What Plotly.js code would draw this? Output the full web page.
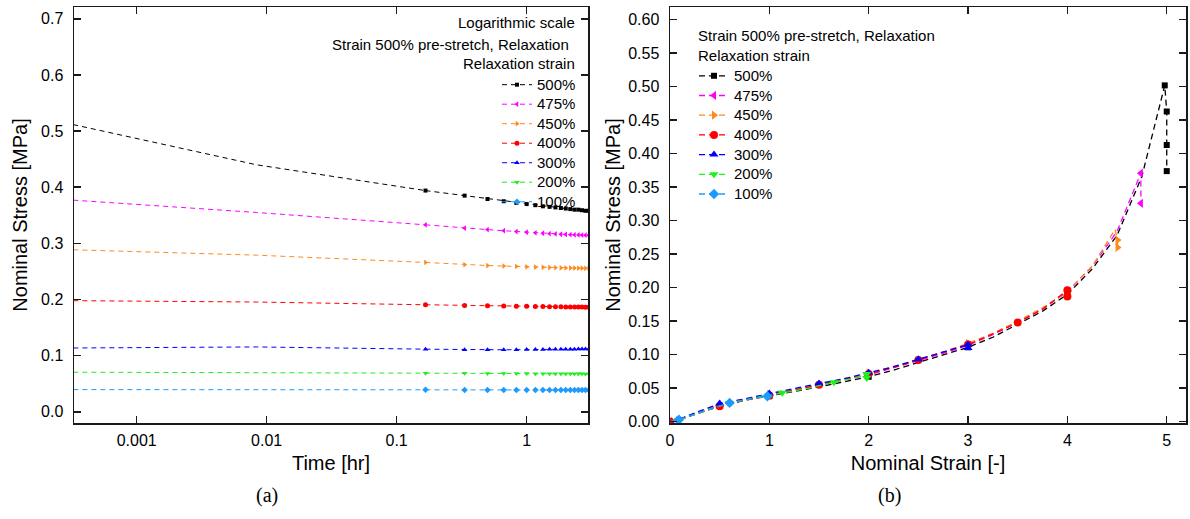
<!DOCTYPE html>
<html><head><meta charset="utf-8">
<script src="https://cdn.plot.ly/plotly-3.0.1.min.js"></script>
<style>html,body{margin:0;padding:0;background:#fff}</style>
</head><body><div id="chart" style="width:1190px;height:519px"></div>
<script>
// ---------------- data: (a) relaxation, stress vs time ----------------
const seriesLabels = ['500%', '475%', '450%', '400%', '300%', '200%', '100%'];
const relaxTimeEarly = [0.000278, 0.00833];
const relaxTime = [0.1667, 0.3333, 0.5, 0.6667, 0.8333, 1.0, 1.1667, 1.3333, 1.5, 1.6667, 1.8333, 2.0, 2.1667, 2.3333, 2.5, 2.6667, 2.8333, 3.0];
const relaxEarly500 = [0.515, 0.440];
const relaxEarly475 = [0.378, 0.355];
const relaxEarly450 = [0.289, 0.279];
const relaxEarly400 = [0.198, 0.1955];
const relaxEarly300 = [0.1135, 0.1155];
const relaxEarly200 = [0.0705, 0.0700];
const relaxEarly100 = [0.0395, 0.0393];
const relax500 = [0.394, 0.385, 0.379, 0.375, 0.372, 0.370, 0.368, 0.366, 0.365, 0.364, 0.363, 0.362, 0.361, 0.360, 0.360, 0.359, 0.358, 0.358];
const relax475 = [0.333, 0.327, 0.3245, 0.3225, 0.321, 0.3198, 0.3188, 0.318, 0.3173, 0.3167, 0.3162, 0.3158, 0.3155, 0.3152, 0.315, 0.3148, 0.3146, 0.3144];
const relax450 = [0.266, 0.262, 0.2605, 0.2595, 0.2588, 0.2582, 0.2577, 0.2573, 0.257, 0.2567, 0.2565, 0.2563, 0.2561, 0.256, 0.2558, 0.2557, 0.2556, 0.2555];
const relax400 = [0.1906, 0.1895, 0.1889, 0.1884, 0.1881, 0.1878, 0.1876, 0.1874, 0.1872, 0.187, 0.1869, 0.1868, 0.1867, 0.1866, 0.1865, 0.1865, 0.1864, 0.1864];
const relax300 = [0.1115, 0.1105, 0.1103, 0.1104, 0.1106, 0.1108, 0.111, 0.1111, 0.1112, 0.1113, 0.1114, 0.1114, 0.1115, 0.1115, 0.1116, 0.1116, 0.1117, 0.1117];
const relax200 = [0.0688, 0.0685, 0.0683, 0.0682, 0.0681, 0.068, 0.0679, 0.0679, 0.0678, 0.0678, 0.0677, 0.0677, 0.0677, 0.0676, 0.0676, 0.0676, 0.0675, 0.0675];
const relax100 = [0.0391, 0.0390, 0.0390, 0.0389, 0.0389, 0.0389, 0.0389, 0.0388, 0.0388, 0.0388, 0.0388, 0.0388, 0.0388, 0.0388, 0.0388, 0.0388, 0.0388, 0.0388];
const timeTickVals = [0.001, 0.01, 0.1, 1, 3];
const timeTickText = ['0.001', '0.01', '0.1', '1', '3'];

// ---------------- data: (b) stress vs strain ----------------
const strain500 = [0, 0.1, 0.25, 0.5, 0.75, 1.0, 1.25, 1.5, 1.75, 2.0, 2.25, 2.5, 2.75, 3.0, 3.25, 3.5, 3.75, 4.0, 4.25, 4.5, 4.75, 4.98, 5.0, 5.0, 5.0];
const stress500 = [0, 0.003, 0.011, 0.023, 0.032, 0.038, 0.045, 0.052, 0.059, 0.067, 0.077, 0.088, 0.099, 0.111, 0.126, 0.145, 0.165, 0.190, 0.228, 0.278, 0.366, 0.502, 0.463, 0.413, 0.374];
const mark500 = [1, 0, 0, 0, 0, 1, 0, 0, 0, 1, 0, 0, 0, 1, 0, 0, 0, 1, 0, 0, 0, 1, 1, 1, 1];
const strain475 = [0, 0.1, 0.25, 0.5, 0.75, 1.0, 1.25, 1.5, 1.75, 2.0, 2.25, 2.5, 2.75, 3.0, 3.25, 3.5, 3.75, 4.0, 4.25, 4.5, 4.74, 4.74];
const stress475 = [0, 0.004, 0.012, 0.025, 0.033, 0.040, 0.047, 0.055, 0.062, 0.070, 0.080, 0.091, 0.102, 0.114, 0.130, 0.148, 0.168, 0.194, 0.232, 0.284, 0.371, 0.326];
const mark475 = [1, 0, 0, 0, 0, 0, 0, 0, 0, 0, 0, 0, 0, 0, 0, 0, 0, 0, 0, 0, 1, 1];
const strain450 = [0, 0.1, 0.25, 0.5, 0.75, 1.0, 1.25, 1.5, 1.75, 2.0, 2.25, 2.5, 2.75, 3.0, 3.25, 3.5, 3.75, 4.0, 4.25, 4.48, 4.505, 4.505];
const stress450 = [0, 0.004, 0.012, 0.025, 0.034, 0.041, 0.048, 0.056, 0.064, 0.073, 0.082, 0.093, 0.104, 0.117, 0.132, 0.150, 0.170, 0.194, 0.232, 0.287, 0.271, 0.260];
const mark450 = [1, 0, 0, 0, 0, 1, 0, 0, 0, 1, 0, 0, 0, 1, 0, 0, 0, 1, 0, 0, 1, 1];
const strain400 = [0, 0.1, 0.25, 0.5, 0.75, 1.0, 1.25, 1.5, 1.75, 2.0, 2.25, 2.5, 2.75, 3.0, 3.25, 3.5, 3.75, 4.0, 4.0];
const stress400 = [0, 0.004, 0.011, 0.023, 0.032, 0.039, 0.047, 0.055, 0.063, 0.071, 0.081, 0.092, 0.103, 0.115, 0.131, 0.148, 0.168, 0.196, 0.187];
const mark400 = [1, 0, 0, 1, 0, 1, 0, 1, 0, 1, 0, 1, 0, 1, 0, 1, 0, 1, 1];
const strain300 = [0, 0.07, 0.25, 0.5, 0.75, 1.0, 1.25, 1.5, 1.75, 2.0, 2.25, 2.5, 2.75, 3.0, 3.0];
const stress300 = [0, 0.002, 0.013, 0.027, 0.034, 0.042, 0.049, 0.057, 0.064, 0.073, 0.082, 0.093, 0.104, 0.115, 0.110];
const mark300 = [0, 1, 0, 1, 0, 1, 0, 1, 0, 1, 0, 1, 0, 1, 1];
const strain200 = [0, 0.08, 0.25, 0.6, 0.85, 1.13, 1.4, 1.65, 1.85, 1.98, 1.98];
const stress200 = [0, 0.002, 0.011, 0.028, 0.035, 0.043, 0.050, 0.059, 0.065, 0.071, 0.065];
const mark200 = [0, 1, 0, 1, 0, 1, 0, 1, 0, 1, 1];
const strain100 = [0, 0.09, 0.3, 0.6, 0.8, 0.98, 0.98];
const stress100 = [0, 0.003, 0.014, 0.028, 0.034, 0.040, 0.038];
const mark100 = [0, 1, 0, 1, 0, 0, 1];

// ---------------- styling ----------------
const colors = ['#000000', '#ff00ff', '#ff8a1c', '#ff0000', '#0000ff', '#1fee1f', '#1c9bff'];
const symbolsA = ['square', 'triangle-left', 'triangle-right', 'circle', 'triangle-up', 'triangle-down', 'diamond'];
const earlyA = [relaxEarly500, relaxEarly475, relaxEarly450, relaxEarly400, relaxEarly300, relaxEarly200, relaxEarly100];
const valsA = [relax500, relax475, relax450, relax400, relax300, relax200, relax100];
const strainB = [strain500, strain475, strain450, strain400, strain300, strain200, strain100];
const stressB = [stress500, stress475, stress450, stress400, stress300, stress200, stress100];
const markB = [mark500, mark475, mark450, mark400, mark300, mark200, mark100];

const W = 1190, H = 519;
const L = 74, R = 1186, T = 7, B = 423.5;
const pxX = x => (x - L) / (R - L);
const pxY = y => (B - y) / (B - T);
const SANS = 'Liberation Sans, Arial, sans-serif';
const SERIF = 'Liberation Serif, Times New Roman, serif';

const traces = [];
// panel (a)
seriesLabels.forEach((lab, i) => {
  traces.push({
    x: relaxTimeEarly.concat([relaxTime[0]]), y: earlyA[i].concat([valsA[i][0]]),
    xaxis: 'x', yaxis: 'y', mode: 'lines', showlegend: false, hoverinfo: 'skip',
    line: {color: colors[i], width: 1, dash: '5px,4px'}
  });
  traces.push({
    x: relaxTime, y: valsA[i], xaxis: 'x', yaxis: 'y', mode: 'lines+markers',
    name: '<span style="font-size:15px">' + lab + '</span>', legend: 'legend',
    line: {color: colors[i], width: 1, dash: '5px,4px'},
    marker: {color: colors[i], symbol: symbolsA[i], size: i === 0 ? 4 : 5}
  });
});
// panel (b)
seriesLabels.forEach((lab, i) => {
  traces.push({
    x: strainB[i], y: stressB[i], xaxis: 'x2', yaxis: 'y2', mode: 'lines', showlegend: false,
    line: {color: colors[i], width: 1.3, dash: '6px,4px'}
  });
  traces.push({
    x: strainB[i].filter((_, k) => markB[i][k]), y: stressB[i].filter((_, k) => markB[i][k]),
    xaxis: 'x2', yaxis: 'y2', mode: 'markers', showlegend: false,
    marker: {color: colors[i], symbol: symbolsA[i], size: i === 0 ? 6 : 8}
  });
});
seriesLabels.forEach((lab, i) => {
  traces.push({
    x: [null], y: [null], xaxis: 'x2', yaxis: 'y2', mode: 'lines+markers',
    name: '<span style="font-size:15px">' + lab + '</span>', legend: 'legend2',
    line: {color: colors[i], width: 1.3, dash: '6px,4px'},
    marker: {color: colors[i], symbol: symbolsA[i], size: i === 0 ? 6 : 8}
  });
});

const axisCommon = {
  showgrid: false, zeroline: false, showline: true, linecolor: '#1a1a1a', linewidth: 1.5,
  mirror: 'ticks', ticks: 'inside', ticklen: 7, tickwidth: 1.5, tickcolor: '#1a1a1a',
  tickfont: {family: SANS, size: 16, color: '#000'}, automargin: false
};

const layout = {
  width: W, height: H,
  margin: {l: L, r: W - R, t: T, b: H - B},
  paper_bgcolor: '#ffffff', plot_bgcolor: '#ffffff',
  font: {family: SANS, color: '#000'},
  xaxis: Object.assign({}, axisCommon, {
    domain: [0, pxX(588)], anchor: 'y', type: 'log', range: [-3.482, 0.472],
    tickvals: timeTickVals, ticktext: timeTickText, ticklabelstandoff: 2,
    title: {text: 'Time [hr]', font: {family: SANS, size: 20}, standoff: 8}
  }),
  yaxis: Object.assign({}, axisCommon, {
    domain: [0, 1], anchor: 'x', range: [-0.020, 0.721], tick0: 0, dtick: 0.1, tickformat: '.1f',
    ticklabelstandoff: 6,
    title: {text: 'Nominal Stress [MPa]', font: {family: SANS, size: 20}, standoff: 8}
  }),
  xaxis2: Object.assign({}, axisCommon, {
    domain: [pxX(670), 1], anchor: 'y2', range: [0, 5.194], tick0: 0, dtick: 1,
    ticklabelstandoff: 2,
    title: {text: 'Nominal Strain [-]', font: {family: SANS, size: 20}, standoff: 8}
  }),
  yaxis2: Object.assign({}, axisCommon, {
    domain: [0, 1], anchor: 'x2', range: [-0.002, 0.619], tick0: 0, dtick: 0.05, tickformat: '.2f',
    ticklabelstandoff: 6,
    title: {text: 'Nominal Stress [MPa]', font: {family: SANS, size: 20}, standoff: 2}
  }),
  legend: {
    x: pxX(497), y: pxY(70), xanchor: 'left', yanchor: 'top', bgcolor: 'rgba(0,0,0,0)',
    borderwidth: 0, font: {family: SANS, size: 12.7, color: '#000'}, itemwidth: 30, tracegroupgap: 0
  },
  legend2: {
    x: pxX(694), y: pxY(61), xanchor: 'left', yanchor: 'top', bgcolor: 'rgba(0,0,0,0)',
    borderwidth: 0, font: {family: SANS, size: 12.85, color: '#000'}, itemwidth: 30, tracegroupgap: 0
  },
  annotations: [
    {text: 'Logarithmic scale', x: pxX(577), y: pxY(23), xref: 'paper', yref: 'paper', xanchor: 'right', yanchor: 'middle', showarrow: false, font: {family: SANS, size: 15}},
    {text: 'Strain 500% pre-stretch, Relaxation', x: pxX(571), y: pxY(45), xref: 'paper', yref: 'paper', xanchor: 'right', yanchor: 'middle', showarrow: false, font: {family: SANS, size: 15}},
    {text: 'Relaxation strain', x: pxX(577), y: pxY(64), xref: 'paper', yref: 'paper', xanchor: 'right', yanchor: 'middle', showarrow: false, font: {family: SANS, size: 15}},
    {text: 'Strain 500% pre-stretch, Relaxation', x: pxX(696), y: pxY(36), xref: 'paper', yref: 'paper', xanchor: 'left', yanchor: 'middle', showarrow: false, font: {family: SANS, size: 15}},
    {text: 'Relaxation strain', x: pxX(696), y: pxY(56), xref: 'paper', yref: 'paper', xanchor: 'left', yanchor: 'middle', showarrow: false, font: {family: SANS, size: 15}},
    {text: '(a)', x: pxX(267), y: pxY(496), xref: 'paper', yref: 'paper', xanchor: 'center', yanchor: 'middle', showarrow: false, font: {family: SERIF, size: 20}},
    {text: '(b)', x: pxX(889), y: pxY(496), xref: 'paper', yref: 'paper', xanchor: 'center', yanchor: 'middle', showarrow: false, font: {family: SERIF, size: 20}}
  ]
};

Plotly.newPlot('chart', traces, layout, {staticPlot: true, displayModeBar: false});
</script></body></html>
